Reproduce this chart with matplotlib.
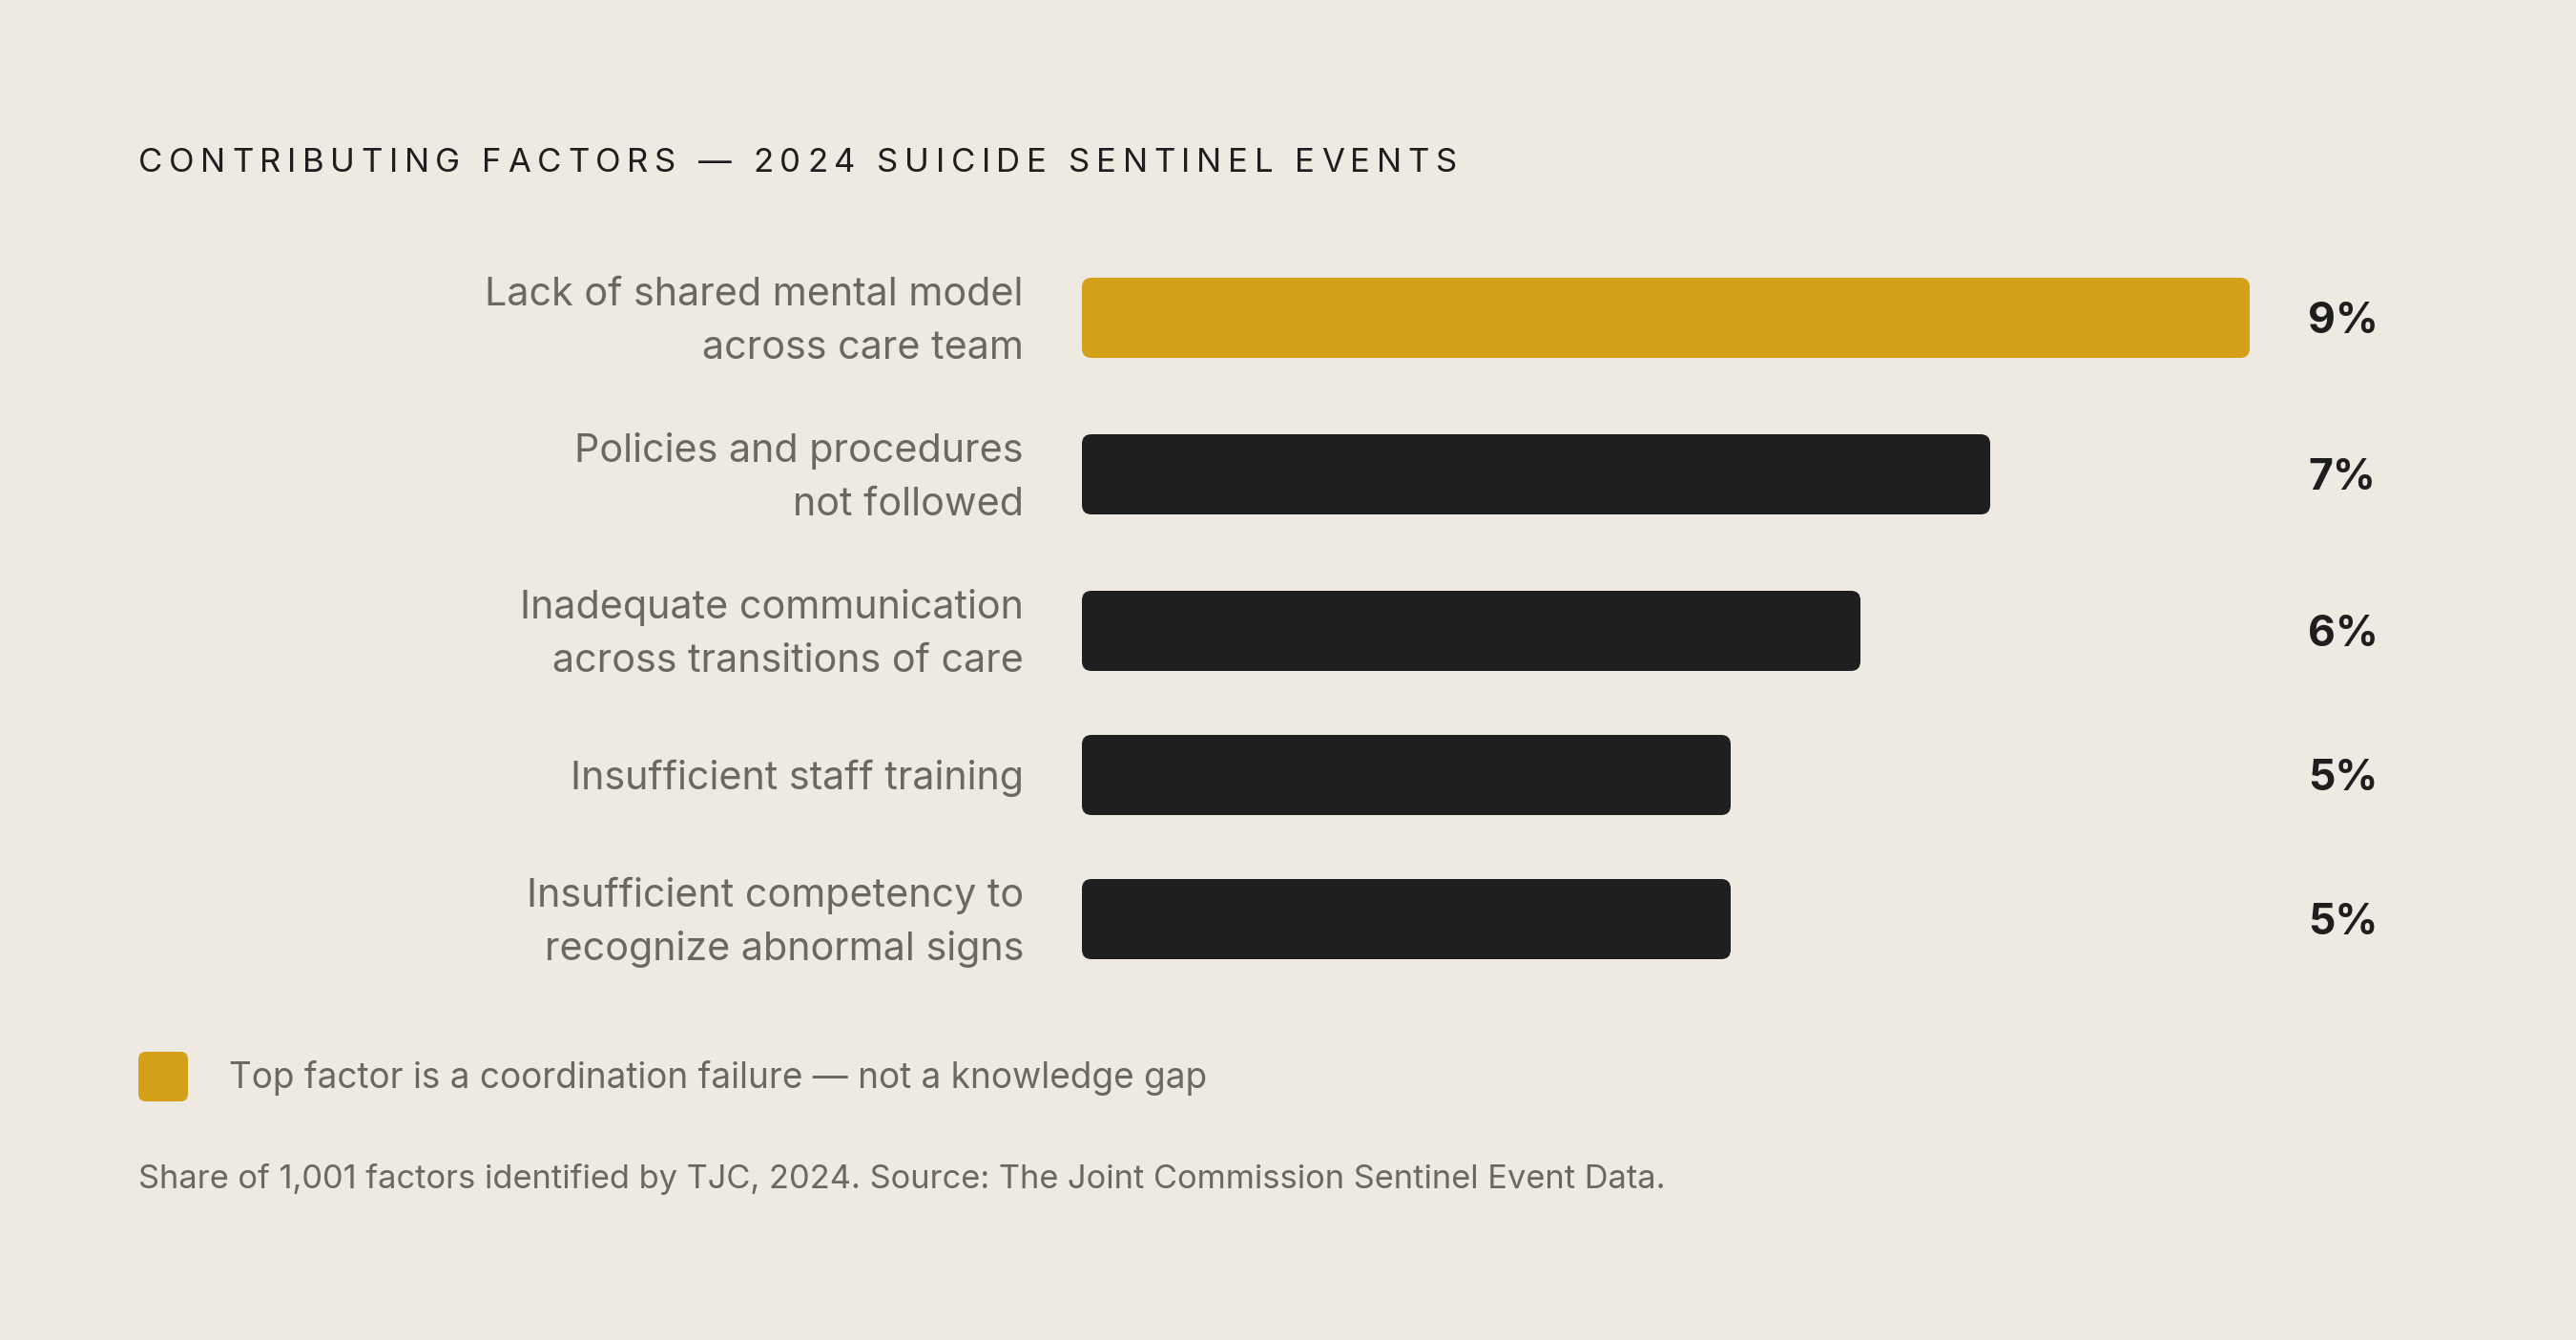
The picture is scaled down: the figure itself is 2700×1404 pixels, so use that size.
import matplotlib
matplotlib.use("Agg")
import matplotlib.pyplot as plt
from matplotlib.patches import FancyBboxPatch

plt.rcParams['font.family'] = ['Inter', 'DejaVu Sans']

# data
factors = ["Lack of shared mental model\nacross care team",
           "Policies and procedures\nnot followed",
           "Inadequate communication\nacross transitions of care",
           "Insufficient staff training",
           "Insufficient competency to\nrecognize abnormal signs"]
shares = [9, 7, 6, 5, 5]
highlight = [True, False, False, False, False]

title = "CONTRIBUTING FACTORS \u2014 2024 SUICIDE SENTINEL EVENTS"
legend_note = "Top factor is a coordination failure \u2014 not a knowledge gap"
footnote = "Share of 1,001 factors identified by TJC, 2024. Source: The Joint Commission Sentinel Event Data."

BG = "#EEEAE2"
GOLD = "#D4A01A"
DARK = "#1F1F1F"
GRAY = "#6B6762"
INK = "#1E1E1E"

W, H = 2700, 1404
fig = plt.figure(figsize=(W / 100, H / 100), dpi=100, facecolor=BG)

# overlay axes in pixel units for text
base = fig.add_axes([0, 0, 1, 1])
base.set_xlim(0, W)
base.set_ylim(H, 0)
base.set_axis_off()
base.patch.set_alpha(0)

# bar axes: x in percent
bar_left = 1134
px_per_pct = 136
ax = fig.add_axes([bar_left / W, 0, 10 * px_per_pct / W, 1])
ax.set_xlim(0, 10)
ax.set_ylim(H, 0)
ax.set_axis_off()
ax.patch.set_alpha(0)

# row layout: row height depends on label lines
bar_h = 84
line_h = 55
gap = 54
top = 278
centers = []
for lab in factors:
    n = lab.count("\n") + 1
    rh = max(bar_h, n * line_h)
    centers.append(top + rh / 2)
    top += rh + gap

colors = [GOLD if h else DARK for h in highlight]
bars = ax.barh(centers, shares, height=bar_h, color=colors)

# swap plain rectangles for rounded ones
r = 10 / px_per_pct
for b in bars:
    x, y = b.get_x(), b.get_y()
    w, h = b.get_width(), b.get_height()
    fb = FancyBboxPatch((x, y), w, h,
                        boxstyle=f"round,pad=0,rounding_size={r}",
                        mutation_aspect=px_per_pct,
                        facecolor=b.get_facecolor(), edgecolor="none")
    b.remove()
    ax.add_patch(fb)

# category labels and values
label_x = 1073
value_x = 2419
for lab, c, v in zip(factors, centers, shares):
    lines = lab.split("\n")
    n = len(lines)
    for i, ln in enumerate(lines):
        yb = c + 15 + (i - (n - 1) / 2) * line_h
        base.text(label_x, yb, ln, ha="right", va="baseline",
                  fontsize=29.7, color=GRAY)
    base.text(value_x, c + 16, f"{v}%", ha="left", va="baseline",
              fontsize=32, fontweight="bold", color=INK)

# letter-spaced title
renderer = fig.canvas.get_renderer()
title_size = 25


def text_w(s):
    t = base.text(0, 0, s, fontsize=title_size)
    w = t.get_window_extent(renderer).width
    t.remove()
    return w


x0 = 145
title_end = 1527
spacing = (title_end - x0 - text_w(title)) / (len(title) - 1)
for i, ch in enumerate(title):
    if ch == " ":
        continue
    xi = x0 + text_w(title[:i + 1]) - text_w(ch) + i * spacing
    base.text(xi, 180, ch, ha="left", va="baseline",
              fontsize=title_size, color=INK)

# legend swatch + note
sw = FancyBboxPatch((145, 1102), 52, 52,
                    boxstyle="round,pad=0,rounding_size=8",
                    facecolor=GOLD, edgecolor="none")
base.add_patch(sw)
base.text(240, 1140, legend_note, ha="left", va="baseline",
          fontsize=26.6, color=GRAY)

base.text(145, 1245, footnote, ha="left", va="baseline",
          fontsize=24.8, color=GRAY)

fig.savefig("out.png", dpi=100, facecolor=BG)
